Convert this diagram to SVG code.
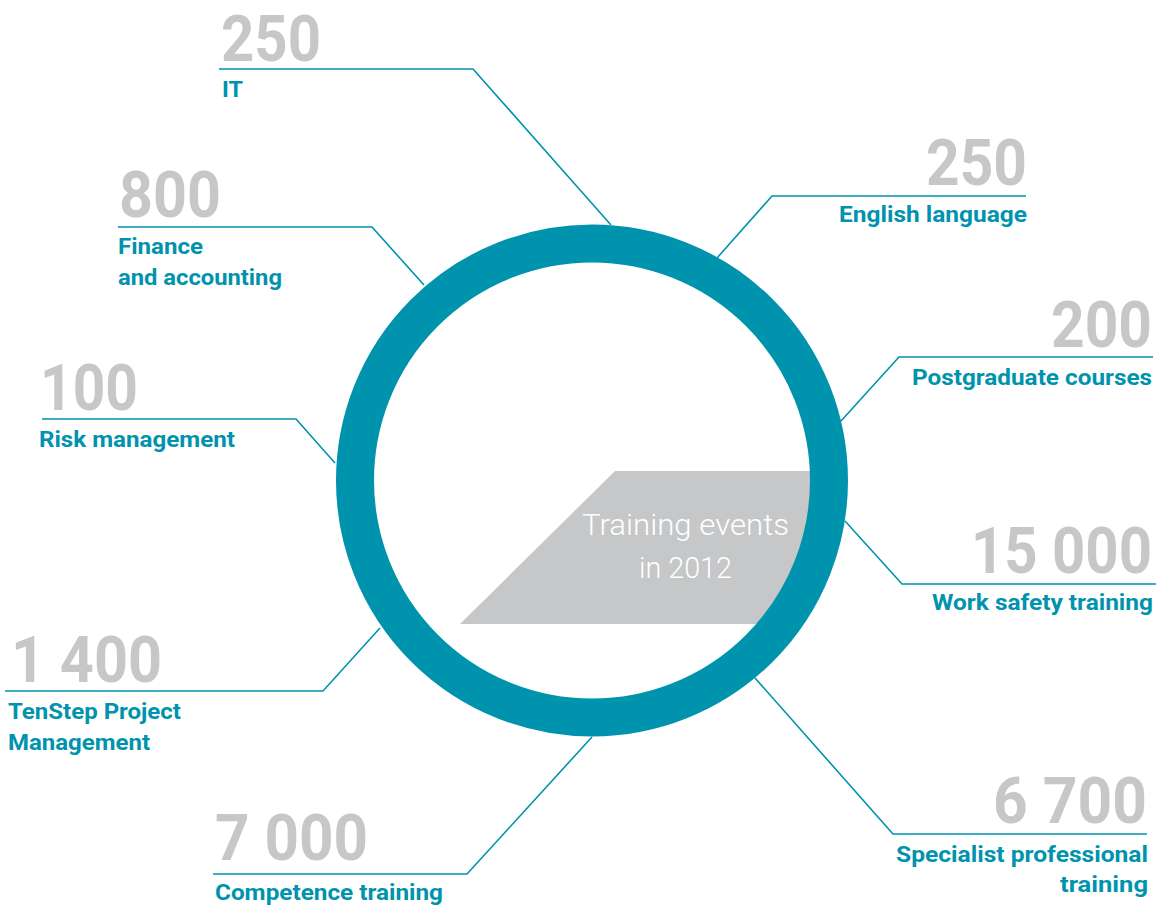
<svg xmlns="http://www.w3.org/2000/svg" width="1159" height="905" viewBox="0 0 1159 905">
<style>
.num{font-family:Roboto,"Liberation Sans",sans-serif;font-weight:700;font-size:65px;fill:#c6c7c9}
.lbl{font-family:Roboto,"Liberation Sans",sans-serif;font-weight:700;font-size:22px;fill:#0093ad}
.ctr{font-family:Roboto,"Liberation Sans",sans-serif;font-weight:300;font-size:30px;fill:#ffffff}
.ln{fill:none;stroke:#0093ad;stroke-width:1.6}
</style>
<rect width="1159" height="905" fill="#ffffff"/>
<g id="connectors">
<polyline class="ln" points="219,69 473,69 611,225"/>
<polyline class="ln" points="118,227 372,227 424,285"/>
<polyline class="ln" points="42,419 296,419 335,463"/>
<polyline class="ln" points="5,691 323,691 380,628"/>
<polyline class="ln" points="213,874 467,874 592,737"/>
<polyline class="ln" points="1026,196 772,196 717,258"/>
<polyline class="ln" points="1153,357 899,357 841,421"/>
<polyline class="ln" points="1156,584 902,584 845,521"/>
<polyline class="ln" points="1147,834 893,834 755,678"/>
</g>
<g id="center">
<polygon points="615,471 832,471 782,624 460,624" fill="#c6c7c8"/>
<circle cx="592" cy="480.5" r="237" fill="none" stroke="#0093ad" stroke-width="38"/>
<text class="ctr" x="582" y="535" textLength="207" lengthAdjust="spacingAndGlyphs">Training events</text>
<text class="ctr" x="639" y="578" textLength="93" lengthAdjust="spacingAndGlyphs">in 2012</text>
</g>
<g id="node-it">
<text class="num" x="221" y="61" textLength="100" lengthAdjust="spacingAndGlyphs">250</text>
<text class="lbl" x="222" y="97" textLength="21" lengthAdjust="spacingAndGlyphs">IT</text>
</g>
<g id="node-finance">
<text class="num" x="119" y="217" textLength="102" lengthAdjust="spacingAndGlyphs">800</text>
<text class="lbl" x="118" y="254" textLength="85" lengthAdjust="spacingAndGlyphs">Finance</text>
<text class="lbl" x="118" y="285" textLength="164" lengthAdjust="spacingAndGlyphs">and accounting</text>
</g>
<g id="node-risk">
<text class="num" x="40" y="410" textLength="98" lengthAdjust="spacingAndGlyphs">100</text>
<text class="lbl" x="39" y="447" textLength="196" lengthAdjust="spacingAndGlyphs">Risk management</text>
</g>
<g id="node-tenstep">
<text class="num" x="11" y="682" textLength="151" lengthAdjust="spacingAndGlyphs">1 400</text>
<text class="lbl" x="8" y="719" textLength="173" lengthAdjust="spacingAndGlyphs">TenStep Project</text>
<text class="lbl" x="8" y="750" textLength="142" lengthAdjust="spacingAndGlyphs">Management</text>
</g>
<g id="node-competence">
<text class="num" x="215" y="860" textLength="153" lengthAdjust="spacingAndGlyphs">7 000</text>
<text class="lbl" x="215" y="900" textLength="228" lengthAdjust="spacingAndGlyphs">Competence training</text>
</g>
<g id="node-english">
<text class="num" x="926" y="185" textLength="101" lengthAdjust="spacingAndGlyphs">250</text>
<text class="lbl" x="839" y="222" textLength="188" lengthAdjust="spacingAndGlyphs">English language</text>
</g>
<g id="node-postgraduate">
<text class="num" x="1051" y="347" textLength="101" lengthAdjust="spacingAndGlyphs">200</text>
<text class="lbl" x="912" y="385" textLength="240" lengthAdjust="spacingAndGlyphs">Postgraduate courses</text>
</g>
<g id="node-worksafety">
<text class="num" x="971" y="573" textLength="181" lengthAdjust="spacingAndGlyphs">15 000</text>
<text class="lbl" x="932" y="610" textLength="221" lengthAdjust="spacingAndGlyphs">Work safety training</text>
</g>
<g id="node-specialist">
<text class="num" x="993" y="823" textLength="154" lengthAdjust="spacingAndGlyphs">6 700</text>
<text class="lbl" x="896" y="862" textLength="252" lengthAdjust="spacingAndGlyphs">Specialist professional</text>
<text class="lbl" x="1060" y="892" textLength="88" lengthAdjust="spacingAndGlyphs">training</text>
</g>
</svg>
